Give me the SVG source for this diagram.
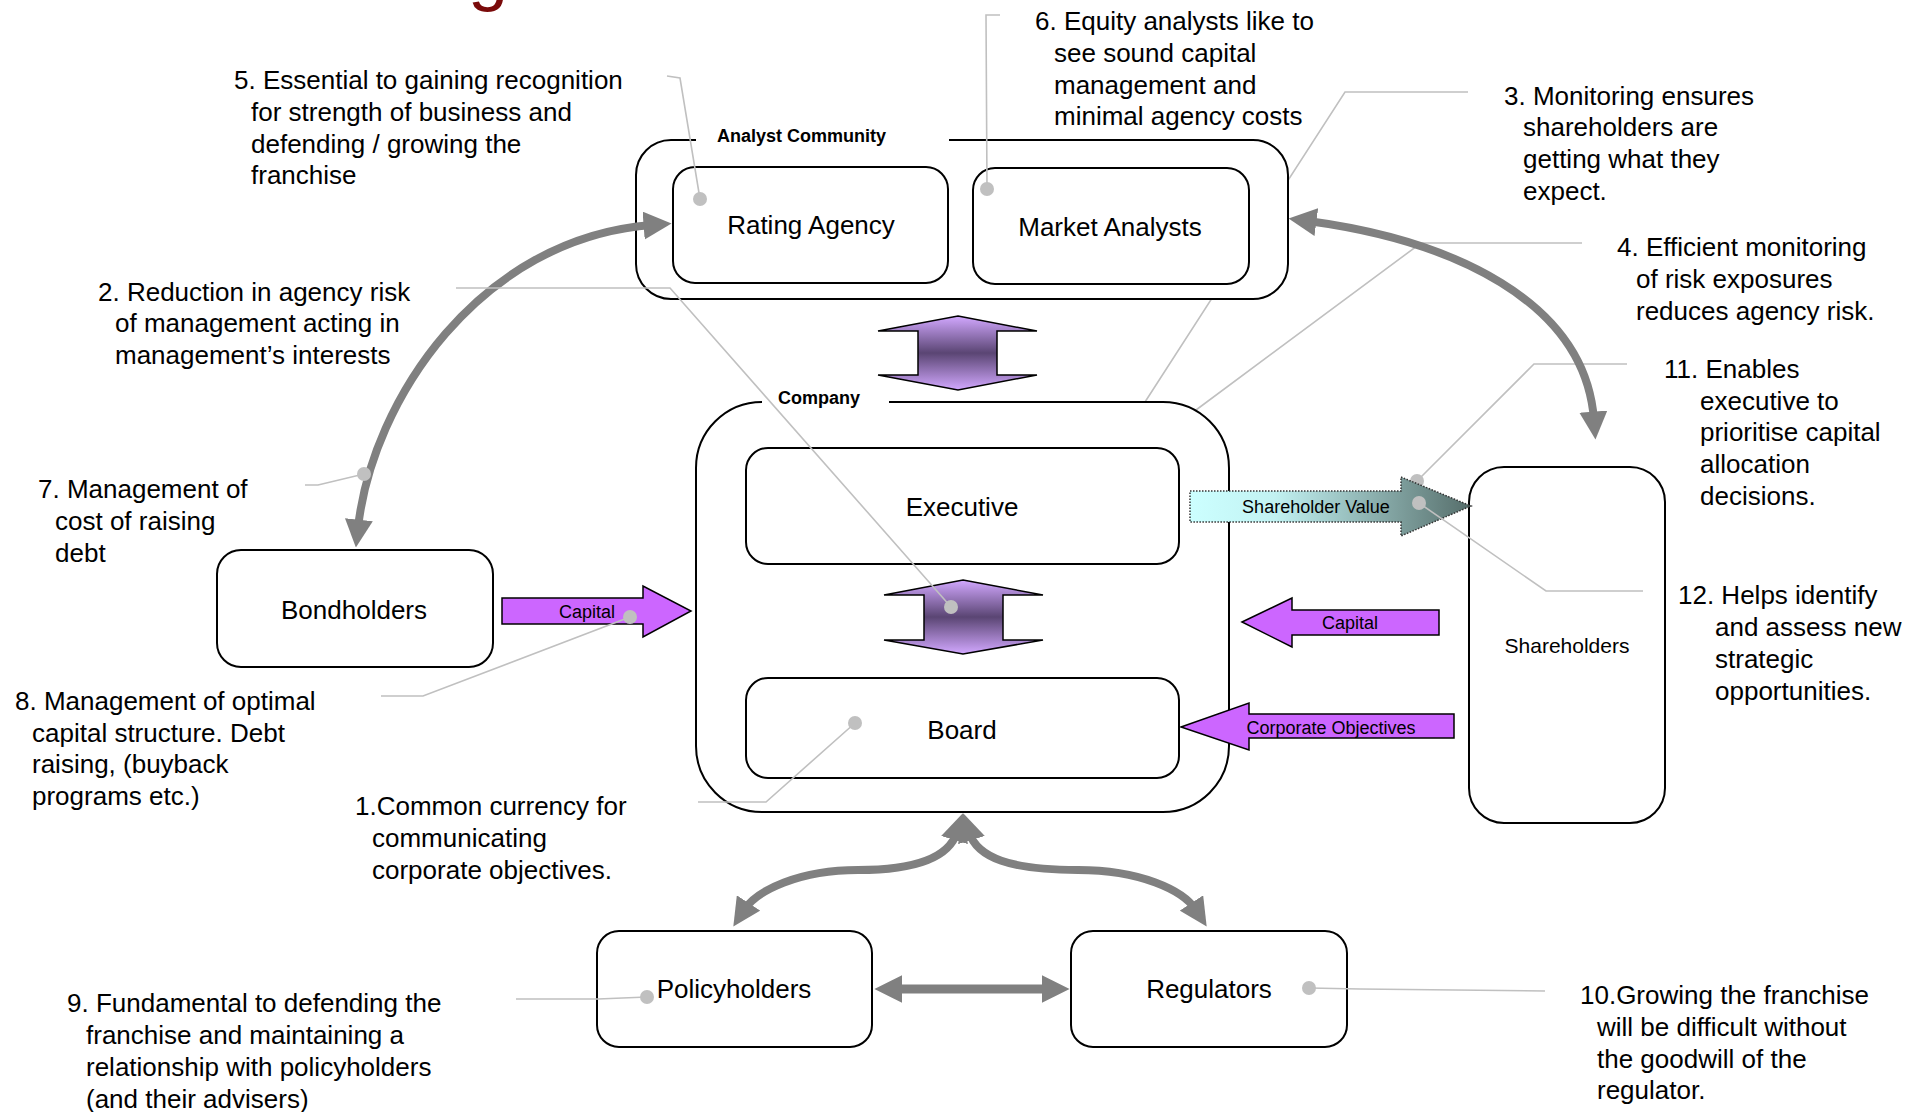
<svg xmlns="http://www.w3.org/2000/svg" width="1921" height="1112" viewBox="0 0 1921 1112">
<defs>
<style>
.t{font-family:"Liberation Sans",Arial,sans-serif;font-size:26px;fill:#000}
.c{text-anchor:middle}
.b{font-weight:bold;font-size:18px}
.s{font-size:18px}
.n{fill:#fff;stroke:#000;stroke-width:2}
.ld{fill:none;stroke:#c0c0c0;stroke-width:1.6}
.dot{fill:#c0c0c0}
.ga{fill:none;stroke:#808080;stroke-width:8;marker-start:url(#ah);marker-end:url(#ah)}
.pa{fill:#cc66ff;stroke:#000;stroke-width:1.5}
.va{fill:url(#vg);stroke:#000;stroke-width:1.5}
</style>
<marker id="ah" viewBox="0 0 10 10" refX="3" refY="5" markerWidth="28" markerHeight="28" markerUnits="userSpaceOnUse" orient="auto-start-reverse">
<path d="M0,0 L10,5 L0,10 z" fill="#808080"/>
</marker>
<linearGradient id="vg" x1="0" y1="0" x2="0" y2="1">
<stop offset="0" stop-color="#d2a8ff"/>
<stop offset="0.5" stop-color="#5a4573"/>
<stop offset="1" stop-color="#d2a8ff"/>
</linearGradient>
<linearGradient id="sg" x1="0" y1="0" x2="1" y2="0">
<stop offset="0" stop-color="#ccffff"/>
<stop offset="0.3" stop-color="#c2f2f2"/>
<stop offset="1" stop-color="#566e6b"/>
</linearGradient>
</defs>
<rect width="1921" height="1112" fill="#fff"/>

<text x="468" y="-3" style="font-family:'Liberation Sans',Arial,sans-serif;font-size:72px;fill:#7a0a0a">g</text>

<g id="leaders-under">
<polyline class="ld" points="1468,92 1345,92 1145,402"/>
<polyline class="ld" points="1582,243 1421,243 1196,410"/>
<polyline class="ld" points="1627,364 1534,364 1417,481"/>
<circle class="dot" cx="1417" cy="481" r="7"/>
</g>

<g id="analyst-community">
<path class="n" d="M949,140 H1253 A35,35 0 0 1 1288,175 V264 A35,35 0 0 1 1253,299 H671 A35,35 0 0 1 636,264 V175 A35,35 0 0 1 671,140 H696"/>
<text class="t b" x="717" y="142">Analyst Community</text>
</g>
<g id="rating-agency">
<rect class="n" x="673" y="167" width="275" height="116" rx="22"/>
<text class="t c" x="811" y="234">Rating Agency</text>
</g>
<g id="market-analysts">
<rect class="n" x="973" y="168" width="276" height="116" rx="22"/>
<text class="t c" x="1110" y="236">Market Analysts</text>
</g>
<g id="company">
<path class="n" d="M889,402 H1163 A66,66 0 0 1 1229,468 V746 A66,66 0 0 1 1163,812 H762 A66,66 0 0 1 696,746 V468 A66,66 0 0 1 762,402"/>
<text class="t b" x="778" y="404">Company</text>
</g>
<g id="executive">
<rect class="n" x="746" y="448" width="433" height="116" rx="22"/>
<text class="t c" x="962" y="516">Executive</text>
</g>
<g id="board">
<rect class="n" x="746" y="678" width="433" height="100" rx="22"/>
<text class="t c" x="962" y="739">Board</text>
</g>
<g id="bondholders">
<rect class="n" x="217" y="550" width="276" height="117" rx="24"/>
<text class="t c" x="354" y="619">Bondholders</text>
</g>
<g id="shareholders">
<rect class="n" x="1469" y="467" width="196" height="356" rx="35"/>
<text class="t c" x="1567" y="653" style="font-size:21px">Shareholders</text>
</g>
<g id="policyholders">
<rect class="n" x="597" y="931" width="275" height="116" rx="22"/>
<text class="t c" x="734" y="998">Policyholders</text>
</g>
<g id="regulators">
<rect class="n" x="1071" y="931" width="276" height="116" rx="22"/>
<text class="t c" x="1209" y="998">Regulators</text>
</g>

<g id="connectors">
<path class="ga" d="M652,225 C480,238 372,400 358,528"/>
<path class="ga" d="M1308,221 C1450,240 1585,300 1594,420"/>
<path class="ga" d="M957,832 C949,858 915,870 858,870 C800,870 757,890 744,910"/>
<path class="ga" d="M969,832 C977,858 1011,870 1078,870 C1140,870 1183,890 1196,910"/>
<path class="ga" style="stroke-width:9" d="M894,989 L1050,989"/>
<polygon class="va" points="958,316 1037,331 997,331 997,375 1037,375 958,390 878,375 918,375 918,331 878,331"/>
<polygon class="va" points="963,580 1043,595 1003,595 1003,640 1043,640 963,654 884,640 924,640 924,595 884,595"/>
<polygon class="pa" points="502,598 643,598 643,586 691,611 643,637 643,624 502,624"/>
<text class="t c s" x="587" y="618">Capital</text>
<polygon class="pa" points="1242,622 1292,598 1292,610 1439,610 1439,635 1292,635 1292,647"/>
<text class="t c s" x="1350" y="629">Capital</text>
<polygon class="pa" points="1181,727 1249,703 1249,714 1454,714 1454,738 1249,738 1249,750"/>
<text class="t c s" x="1331" y="734">Corporate Objectives</text>
<polygon points="1190,491 1401,491 1401,477 1471,506 1401,536 1401,522 1190,522" fill="url(#sg)" stroke="#333" stroke-width="1.5" stroke-dasharray="1.5,1.5"/>
<text class="t c s" x="1316" y="513">Shareholder Value</text>
</g>

<g id="leaders">
<polyline class="ld" points="667,76 680,78 700,199"/>
<circle class="dot" cx="700" cy="199" r="7"/>
<polyline class="ld" points="1000,15 986,15 987,189"/>
<circle class="dot" cx="987" cy="189" r="7"/>
<polyline class="ld" points="456,288 670,288 951,607"/>
<circle class="dot" cx="951" cy="607" r="7"/>
<polyline class="ld" points="305,485 318,485 364,474"/>
<circle class="dot" cx="364" cy="474" r="7"/>
<polyline class="ld" points="381,696 423,696 630,617"/>
<circle class="dot" cx="630" cy="617" r="7"/>
<polyline class="ld" points="698,802 766,802 855,723"/>
<circle class="dot" cx="855" cy="723" r="7"/>
<polyline class="ld" points="516,999 598,999 647,997"/>
<circle class="dot" cx="647" cy="997" r="7"/>
<polyline class="ld" points="1545,991 1360,989 1309,988"/>
<circle class="dot" cx="1309" cy="988" r="7"/>
<polyline class="ld" points="1643,591 1546,591 1419,503"/>
<circle class="dot" cx="1419" cy="503" r="7"/>
</g>

<g id="notes">
<text class="t"><tspan x="234" y="89">5. Essential to gaining recognition</tspan><tspan x="251" y="121">for strength of business and</tspan><tspan x="251" y="153">defending / growing the</tspan><tspan x="251" y="184">franchise</tspan></text>
<text class="t"><tspan x="1035" y="30">6. Equity analysts like to</tspan><tspan x="1054" y="62">see sound capital</tspan><tspan x="1054" y="94">management and</tspan><tspan x="1054" y="125">minimal agency costs</tspan></text>
<text class="t"><tspan x="1504" y="105">3. Monitoring ensures</tspan><tspan x="1523" y="136">shareholders are</tspan><tspan x="1523" y="168">getting what they</tspan><tspan x="1523" y="200">expect.</tspan></text>
<text class="t"><tspan x="1617" y="256">4. Efficient monitoring</tspan><tspan x="1636" y="288">of risk exposures</tspan><tspan x="1636" y="320">reduces agency risk.</tspan></text>
<text class="t"><tspan x="1664" y="378">11. Enables</tspan><tspan x="1700" y="410">executive to</tspan><tspan x="1700" y="441">prioritise capital</tspan><tspan x="1700" y="473">allocation</tspan><tspan x="1700" y="505">decisions.</tspan></text>
<text class="t"><tspan x="1678" y="604">12. Helps identify</tspan><tspan x="1715" y="636">and assess new</tspan><tspan x="1715" y="668">strategic</tspan><tspan x="1715" y="700">opportunities.</tspan></text>
<text class="t"><tspan x="98" y="301">2. Reduction in agency risk</tspan><tspan x="115" y="332">of management acting in</tspan><tspan x="115" y="364">management’s interests</tspan></text>
<text class="t"><tspan x="38" y="498">7. Management of</tspan><tspan x="55" y="530">cost of raising</tspan><tspan x="55" y="562">debt</tspan></text>
<text class="t"><tspan x="15" y="710">8. Management of optimal</tspan><tspan x="32" y="742">capital structure. Debt</tspan><tspan x="32" y="773">raising, (buyback</tspan><tspan x="32" y="805">programs etc.)</tspan></text>
<text class="t"><tspan x="355" y="815">1.Common currency for</tspan><tspan x="372" y="847">communicating</tspan><tspan x="372" y="879">corporate objectives.</tspan></text>
<text class="t"><tspan x="67" y="1012">9. Fundamental to defending the</tspan><tspan x="86" y="1044">franchise and maintaining a</tspan><tspan x="86" y="1076">relationship with policyholders</tspan><tspan x="86" y="1108">(and their advisers)</tspan></text>
<text class="t"><tspan x="1580" y="1004">10.Growing the franchise</tspan><tspan x="1597" y="1036">will be difficult without</tspan><tspan x="1597" y="1068">the goodwill of the</tspan><tspan x="1597" y="1099">regulator.</tspan></text>
</g>
</svg>
